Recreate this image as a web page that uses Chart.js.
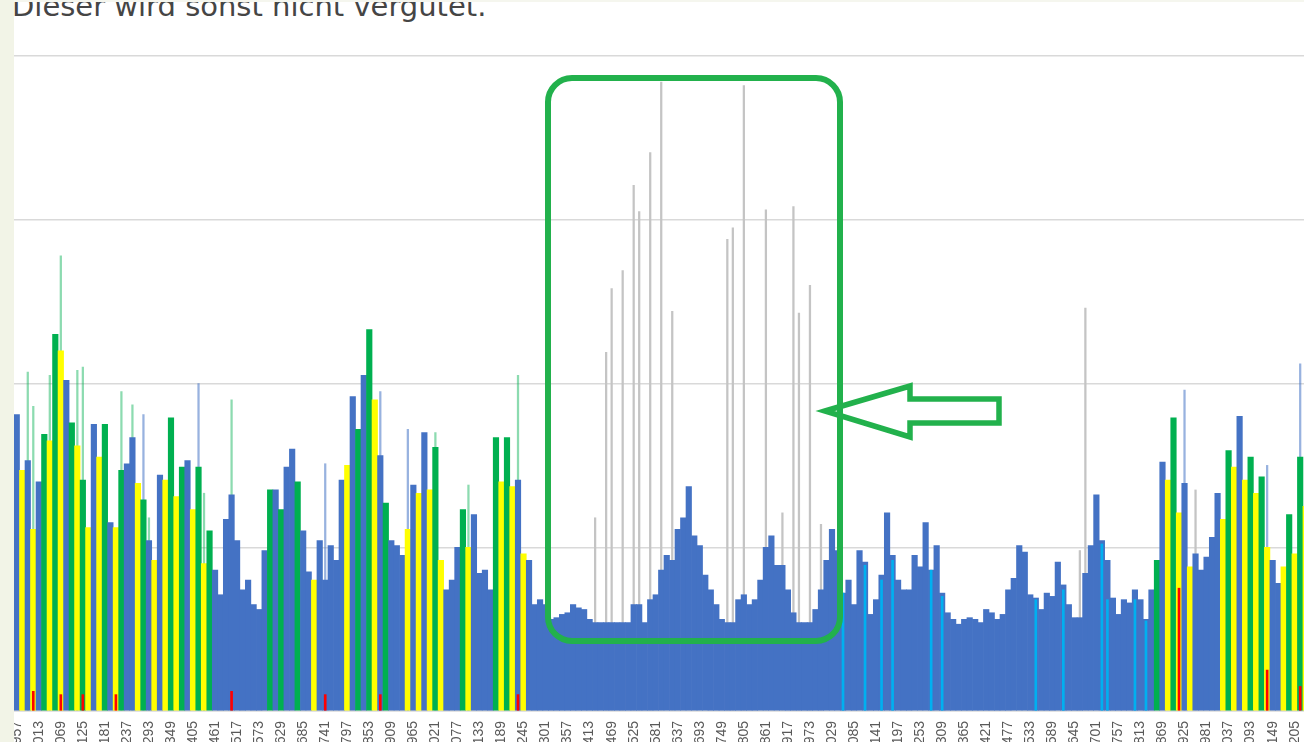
<!DOCTYPE html>
<html lang="de">
<head>
<meta charset="utf-8">
<title>Lastgang</title>
<script src="https://cdn.jsdelivr.net/npm/chart.js@4.4.1/dist/chart.umd.min.js"></script>
<style>
    html, body { margin: 0; padding: 0; width: 1304px; height: 742px; overflow: hidden; background: #fff; }
    .strip-left { position: absolute; left: 0; top: 0; width: 14px; height: 742px; background: #f2f4e7; z-index: 3; }
    .strip-top { position: absolute; left: 0; top: 0; width: 1304px; height: 2px; background: #f5f6ee; z-index: 3; }
    .title { position: absolute; left: 12px; top: -11px; font-family: 'DejaVu Sans', sans-serif; font-weight: 400; font-size: 29px; color: #454545; white-space: nowrap; z-index: 2; }
    #chartWrap { position: absolute; left: 14px; top: 54px; width: 1322px; height: 697px; }
    svg.marks { position: absolute; left: 0; top: 0; z-index: 4; pointer-events: none; }
</style>
</head>
<body>
<div class="strip-top"></div>
<div class="strip-left"></div>
<div class="title">Dieser wird sonst nicht vergütet.</div>
<div id="chartWrap"><canvas id="loadChart" width="1322" height="697"></canvas></div>
<svg class="marks" width="1304" height="742">
    <rect x="548" y="78" width="292" height="563" rx="24" ry="24" fill="none" stroke="#22b14c" stroke-width="6"/>
    <path d="M825 411 L910 386 L910 399 L999 399 L999 423 L910 423 L910 437 Z" fill="none" stroke="#22b14c" stroke-width="5.5" stroke-linejoin="miter"/>
</svg>

<script>
// interval numbering on the x axis (one bar = 14 intervals, label every 4th bar)
const firstInterval = 957;
const intervalStep = 14;

// main load profile, one value per bar
const loadValues = [
    1.81, 1.47, 1.53, 1.11, 1.40, 1.69, 1.65, 2.30, 2.20, 2.02,
    1.76, 1.62, 1.41, 1.12, 1.75, 1.55, 1.75, 1.15, 1.12, 1.47,
    1.51, 1.67, 1.39, 1.29, 1.04, 0.92, 1.44, 1.41, 1.79, 1.31,
    1.49, 1.53, 1.23, 1.49, 0.90, 1.10, 0.86, 0.71, 1.17, 1.32,
    1.04, 0.74, 0.80, 0.65, 0.62, 0.98, 1.35, 1.35, 1.23, 1.49,
    1.60, 1.40, 1.10, 0.85, 0.80, 1.04, 0.80, 1.01, 0.92, 1.41,
    1.50, 1.92, 1.72, 2.05, 2.33, 1.90, 1.56, 1.27, 1.04, 1.01,
    0.95, 1.11, 1.38, 1.33, 1.70, 1.35, 1.61, 0.92, 0.74, 0.80,
    1.00, 1.23, 1.00, 1.20, 0.84, 0.86, 0.74, 1.67, 1.40, 1.67,
    1.37, 1.41, 0.96, 0.92, 0.65, 0.68, 0.65, 0.56, 0.57, 0.59,
    0.60, 0.65, 0.63, 0.62, 0.56, 0.54, 0.54, 0.54, 0.54, 0.54,
    0.54, 0.54, 0.65, 0.65, 0.54, 0.68, 0.71, 0.86, 0.95, 0.92,
    1.11, 1.18, 1.37, 1.07, 1.01, 0.83, 0.74, 0.65, 0.56, 0.54,
    0.54, 0.68, 0.71, 0.65, 0.68, 0.80, 1.00, 1.07, 0.89, 0.89,
    0.74, 0.60, 0.54, 0.54, 0.54, 0.62, 0.74, 0.92, 1.11, 0.98,
    0.72, 0.80, 0.65, 0.98, 0.91, 0.59, 0.68, 0.83, 1.21, 0.95,
    0.80, 0.74, 0.74, 0.95, 0.88, 1.15, 0.86, 1.01, 0.72, 0.60,
    0.56, 0.53, 0.56, 0.57, 0.56, 0.54, 0.62, 0.60, 0.56, 0.59,
    0.74, 0.81, 1.01, 0.97, 0.71, 0.69, 0.62, 0.72, 0.70, 0.91,
    0.77, 0.65, 0.57, 0.57, 0.84, 1.01, 1.32, 1.04, 0.92, 0.69,
    0.59, 0.68, 0.66, 0.74, 0.68, 0.56, 0.74, 0.92, 1.52, 1.41,
    1.79, 1.21, 1.39, 0.88, 0.96, 0.86, 0.94, 1.06, 1.33, 1.17,
    1.59, 1.49, 1.80, 1.41, 1.55, 1.33, 1.43, 1.00, 0.92, 0.78,
    0.88, 1.20, 0.96, 1.55, 1.25, 1.40, 1.20, 1.50, 1.10, 1.30
];
// B = Netz, Y = PV, G = Speicher
const loadKinds = [
    'BYBYBGYGYB', 'GYGYBYGBYG', 'BBYGBYBYGY', 'GBYGYGBBBB', 'BBBBBBGBGB',
    'BGBBYBBBBB', 'YBGBGYBGBB', 'BYBYBYGYBB', 'BGYBBBBGYG', 'YBYBBBBBBB',
    'BBBBBBBBBB', 'BBBBBBBBBB', 'BBBBBBBBBB', 'BBBBBBBBBB', 'BBBBBBBBBB',
    'BBBBBBBBBB', 'BBBBBBBBBB', 'BBBBBBBBBB', 'BBBBBBBBBB', 'BBBBBBBBBB',
    'BBBBBBBGBY', 'GYBYBBBBBY', 'GYBYGYGYBB', 'YGYGYBYGYB'
].join('');

// short peaks (thin lines)
const spikeBins = [2, 3, 6, 8, 11, 12, 19, 21, 23, 24, 33, 34, 39, 56, 66, 71, 76, 82, 91,
    105, 107, 108, 110, 112, 113, 115, 117, 119, 129, 130, 132, 136, 139, 141, 142, 144, 146,
    193, 194, 212, 214, 227, 233];
const spikeValues = [2.07, 1.86, 2.05, 2.78, 2.08, 2.10, 1.95, 1.87, 1.81, 1.18, 2.00, 1.33, 1.90, 1.51, 1.95, 1.72, 1.70, 1.38, 2.05,
    1.18, 2.19, 2.58, 2.69, 3.21, 3.05, 3.41, 3.84, 2.44, 2.88, 2.95, 3.82, 3.06, 1.21, 3.08, 2.43, 2.60, 1.14,
    0.98, 2.46, 1.96, 1.35, 1.50, 2.12];
const spikeKinds = 'ggggggggbgbggbbbggg' + 'xxxxxxxxxxxxxxxxxx' + 'xxbxbb';

// narrow stripes inside the area (R = red, C = light blue)
const stripeBins = [3, 8, 12, 18, 39, 56, 66, 91, 211, 227, 233,
    150, 154, 157, 159, 166, 168, 185, 190, 197, 198, 203, 205];
const stripeValues = [0.12, 0.10, 0.10, 0.10, 0.12, 0.10, 0.10, 0.10, 0.75, 0.25, 0.15,
    0.72, 0.89, 0.80, 0.92, 0.86, 0.70, 0.68, 0.74, 1.02, 0.68, 0.68, 0.55];
const stripeKinds = 'RRRRRRRRRRR' + 'CCCCCCCCCCCC';

const yTicks = [0, 1, 2, 3, 4];

const COLORS = {
    B: '#4472c4', Y: '#ffff00', G: '#00b050',
    R: '#ff0000', C: '#00b0f0',
    g: 'rgba(0, 176, 80, 0.45)', b: 'rgba(68, 114, 196, 0.55)', x: '#c4c4c4',
    grid: '#d9d9d9', tick: '#595959'
};

const labels = loadValues.map((_, i) => String(firstInterval + i * intervalStep));

function sparse(bins, values) {
    const arr = new Array(loadValues.length).fill(null);
    bins.forEach((b, i) => { arr[b] = values[i]; });
    return arr;
}
function sparseColors(bins, kinds) {
    const arr = new Array(loadValues.length).fill('rgba(0,0,0,0)');
    bins.forEach((b, i) => { arr[b] = COLORS[kinds[i]]; });
    return arr;
}

const ctx = document.getElementById('loadChart').getContext('2d');
new Chart(ctx, {
    type: 'bar',
    data: {
        labels: labels,
        datasets: [
            {
                label: 'Spitzen',
                data: sparse(spikeBins, spikeValues),
                backgroundColor: sparseColors(spikeBins, spikeKinds),
                barThickness: 1.6,
                grouped: false,
                order: 3
            },
            {
                label: 'Last',
                data: loadValues,
                backgroundColor: loadValues.map((_, i) => COLORS[loadKinds[i]]),
                borderWidth: 0,
                barPercentage: 1,
                categoryPercentage: 1,
                grouped: false,
                order: 2
            },
            {
                label: 'Streifen',
                data: sparse(stripeBins, stripeValues),
                backgroundColor: sparseColors(stripeBins, stripeKinds),
                barThickness: 2,
                grouped: false,
                order: 1
            }
        ]
    },
    options: {
        responsive: false,
        animation: false,
        layout: { padding: { top: 2, left: 0, right: 0, bottom: 0 } },
        plugins: { legend: { display: false }, tooltip: { enabled: false } },
        scales: {
            x: {
                grid: { display: false, drawTicks: false },
                border: { display: true, color: COLORS.grid, width: 1.5 },
                ticks: {
                    autoSkip: false, minRotation: 90, maxRotation: 90, padding: 10,
                    color: COLORS.tick, font: { family: "'Liberation Sans', Arial, sans-serif", size: 14 },
                    callback: function (value, index) { return index % 4 === 0 ? this.getLabelForValue(value) : ''; }
                },
                afterFit: s => { s.height = 40; s.paddingLeft = 0; s.paddingRight = 0; }
            },
            y: {
                min: yTicks[0], max: yTicks[yTicks.length - 1],
                afterBuildTicks: s => { s.ticks = yTicks.map(v => ({ value: v })); },
                grid: { color: COLORS.grid, lineWidth: 1.5, drawTicks: false },
                border: { display: false },
                ticks: { display: false },
                afterFit: s => { s.width = 0; s.paddingTop = 0; s.paddingBottom = 0; }
            }
        }
    }
});
</script>
</body>
</html>
